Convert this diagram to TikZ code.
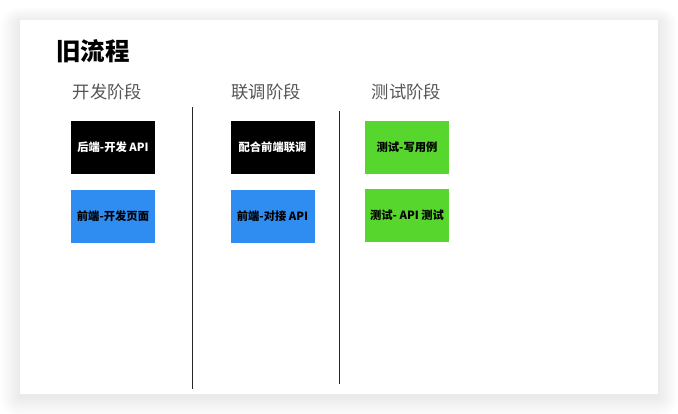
\documentclass[tikz,border=0pt]{standalone}
\usepackage{fontspec}
\setmainfont{Noto Sans CJK SC}
\begin{document}
\begin{tikzpicture}[x=1pt,y=-1pt,
  taskbox/.style={minimum width=84pt,minimum height=53pt,inner sep=0pt,font=\fontsize{11.3}{13}\selectfont\bfseries},
  blackbox/.style={taskbox,fill=black,text=white},
  bluebox/.style={taskbox,fill=bluec,text=black},
  greenbox/.style={taskbox,fill=greenc,text=black},
  phase/.style={font=\fontsize{17.3}{19}\selectfont,text=gray5,inner sep=0pt},
  divider/.style={draw=black!85,line width=0.8pt}]
\definecolor{bluec}{HTML}{2F8CF0}
\definecolor{greenc}{HTML}{57D62D}
\definecolor{gray5}{HTML}{555555}
\useasboundingbox (0,0) rectangle (678,414);
\fill[white] (0,0) rectangle (678,414);
% shadow
\foreach \i in {1,...,20}{
  \fill[black,opacity=0.0035,rounded corners=\i pt] (20-\i,20-\i*0.8+3) rectangle (658+\i,394+\i*1.0+3);
}
\fill[white] (20,20) rectangle (658,394);
% title
\node[anchor=west,inner sep=0pt,font=\fontsize{24.5}{26}\selectfont\bfseries] (title) at (56,51) {旧流程};
% phases
\node[phase] (p1) at (107.5,91.5) {开发阶段};
\node[phase] (p2) at (266,91.5) {联调阶段};
\node[phase] (p3) at (406.5,91.5) {测试阶段};
% boxes
\node[blackbox] (b1) at (113,147.5) {后端-开发 API};
\node[bluebox] (b2) at (113,216.5) {前端-开发页面};
\node[blackbox] (b3) at (272.5,147.5) {配合前端联调};
\node[bluebox] (b4) at (272.5,216.5) {前端-对接 API};
\node[greenbox] (b5) at (407,147.5) {测试-写用例};
\node[greenbox] (b6) at (407,215.5) {测试- API 测试};
% dividers
\coordinate (d1t) at (192.3,107);
\coordinate (d1b) at (192.3,388.5);
\coordinate (d2t) at (339.3,111);
\coordinate (d2b) at (339.3,383.5);
\draw[divider] (d1t) -- (d1b);
\draw[divider] (d2t) -- (d2b);
\end{tikzpicture}
\end{document}
